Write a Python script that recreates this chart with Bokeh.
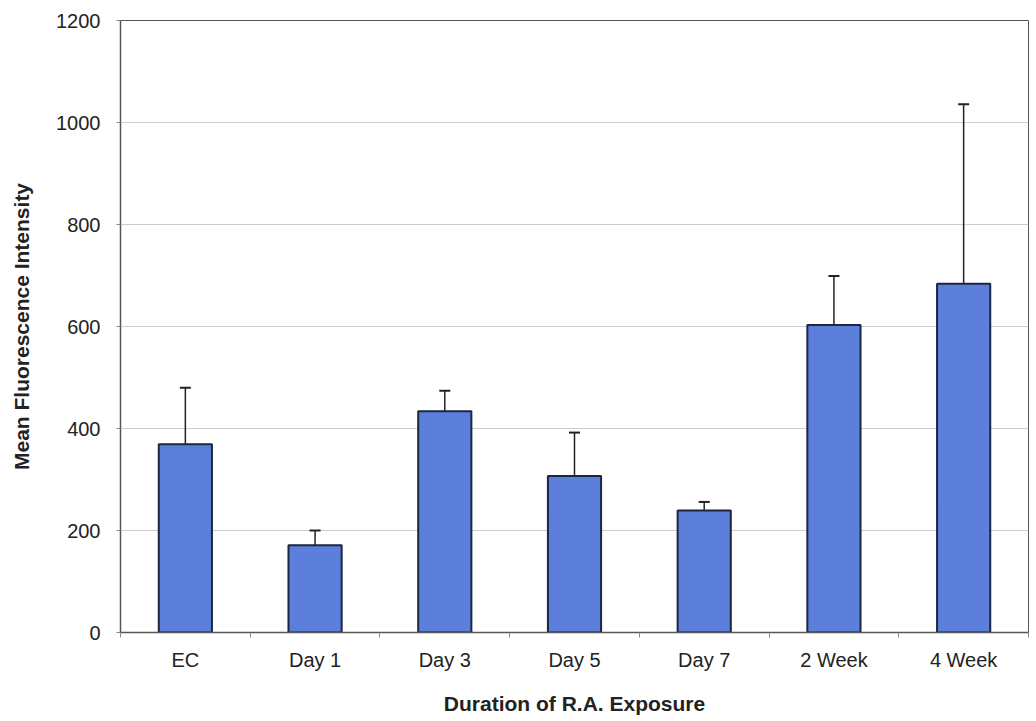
import numpy as np
from bokeh.plotting import figure
from bokeh.models import ColumnDataSource, Range1d, FixedTicker, Whisker, TeeHead
from bokeh.embed import file_html
from bokeh.resources import INLINE

categories = ["EC", "Day 1", "Day 3", "Day 5", "Day 7", "2 Week", "4 Week"]
means = [369, 171, 434, 307, 239, 603, 684]
errors = [111, 29, 40, 85, 17, 96, 352]
y_ticks = [0, 200, 400, 600, 800, 1000, 1200]

n = len(categories)
xpos = np.arange(n) + 0.5
upper = [m + e for m, e in zip(means, errors)]

src = ColumnDataSource(dict(x=xpos, top=means, upper=upper, cat=categories))

FONT = "Liberation Sans"
p = figure(width=1030, height=719, output_backend="svg", toolbar_location=None,
           x_range=Range1d(0, n), y_range=Range1d(0, 1200),
           min_border_left=120, min_border_top=20, min_border_right=2, min_border_bottom=87,
           frame_width=908, frame_height=612)

p.outline_line_color = "#555555"
p.outline_line_width = 1
p.background_fill_color = "white"
p.border_fill_color = "white"

p.vbar(x="x", top="top", bottom=0, width=0.41, source=src,
       fill_color="#5b7fdb", line_color="#1c2640", line_width=2)

w = Whisker(base="x", lower="top", upper="upper", source=src, dimension="height",
            line_color="#222222", line_width=1.5,
            upper_head=TeeHead(size=11, line_color="#222222", line_width=2),
            lower_head=None)
p.add_layout(w)

# x axis
p.xaxis.ticker = FixedTicker(ticks=list(xpos), minor_ticks=list(np.arange(0, n + 1)))
p.xaxis.major_label_overrides = {float(x): c for x, c in zip(xpos, categories)}
p.xaxis.major_tick_out = 0
p.xaxis.major_tick_in = 0
p.xaxis.minor_tick_out = 5
p.xaxis.minor_tick_in = 0
p.xaxis.minor_tick_line_color = "#888888"
p.xaxis.axis_label = "Duration of R.A. Exposure"
p.xaxis.major_label_standoff = 11
p.xaxis.axis_label_standoff = 18

# y axis
p.yaxis.ticker = FixedTicker(ticks=y_ticks)
p.yaxis.minor_tick_line_color = None
p.yaxis.major_tick_out = 4
p.yaxis.major_tick_in = 0
p.yaxis.major_tick_line_color = "#888888"
p.yaxis.axis_label = "Mean Fluorescence Intensity"
p.yaxis.major_label_standoff = 16
p.yaxis.axis_label_standoff = 20

for ax in (p.xaxis, p.yaxis):
    ax.axis_line_color = "#555555"
    ax.axis_line_width = 1.5
    ax.major_label_text_font = FONT
    ax.major_label_text_font_size = "20px"
    ax.major_label_text_color = "#222222"
    ax.axis_label_text_font = FONT
    ax.axis_label_text_font_size = "21px"
    ax.axis_label_text_font_style = "bold"
    ax.axis_label_text_color = "#222222"

p.xgrid.grid_line_color = None
p.ygrid.grid_line_color = "#cccccc"
p.ygrid.grid_line_width = 1

open("out.html", "w").write(file_html(p, INLINE))
